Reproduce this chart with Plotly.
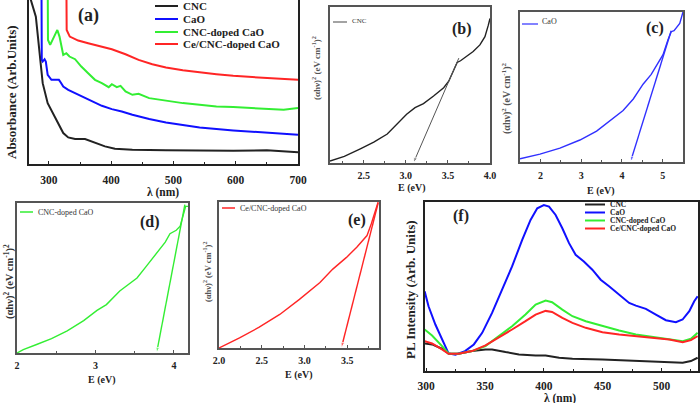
import plotly.graph_objects as go

W, H = 700, 403
SERIF = "Liberation Serif"

# ---------------- data ----------------
# (a) UV-Vis absorbance
a_cnc_x = [268, 271, 279, 285, 290, 298, 306, 315, 323, 331, 342, 358, 374, 390, 406, 434, 488, 542, 596, 650, 700]
a_cnc_y = [560, 493, 443, 343, 243, 183, 153, 118, 93, 80, 75, 75, 65, 53, 46, 43, 41, 40, 40, 41, 35]
a_cao_x = [288, 288.5, 290, 293, 295, 298, 304, 312, 316, 319, 323, 331, 342, 352, 369, 385, 401, 417, 434, 461, 488, 515, 542, 596, 650, 700]
a_cao_y = [560, 313, 308, 315, 308, 268, 253, 253, 253, 245, 233, 223, 213, 203, 188, 175, 165, 158, 148, 135, 125, 117, 110, 101, 95, 88]
a_cncd_x = [298, 298.5, 302, 309, 313.5, 317, 323, 328, 333, 342, 352, 363, 374, 385, 396, 401, 409, 415, 423, 434, 444, 461, 488, 515, 542, 569, 596, 623, 650, 677, 700]
a_cncd_y = [560, 373, 358, 383, 403, 383, 328, 333, 323, 315, 293, 273, 253, 243, 231, 240, 231, 235, 218, 208, 211, 198, 190, 183, 178, 173, 171, 168, 167, 163, 168]
a_ce_x = [328, 328.5, 333.5, 347, 363, 379, 401, 423, 444, 466, 488, 515, 542, 569, 596, 650, 700]
a_ce_y = [560, 403, 383, 371, 363, 356, 345, 330, 313, 300, 290, 282, 275, 270, 265, 259, 253]

# (b) Tauc plot CNC
b_x = [2.1, 2.27, 2.46, 2.62, 2.78, 2.94, 3.01, 3.11, 3.21, 3.33, 3.45, 3.51, 3.57, 3.61, 3.65, 3.72, 3.80, 3.88, 3.94, 3.98, 4.0]
b_y = [6, 20, 43, 63, 88, 128, 148, 168, 180, 203, 228, 248, 283, 305, 310, 323, 338, 358, 383, 418, 438]
b_fit_x = [3.63, 3.09]
b_fit_y = [318, 0]

# (c) Tauc plot CaO
c_x = [1.5, 1.99, 2.48, 2.97, 3.38, 3.70, 4.03, 4.28, 4.52, 4.72, 4.89, 5.01, 5.13, 5.21, 5.28, 5.42, 5.5]
c_y = [10, 24, 42, 67, 94, 124, 157, 192, 237, 267, 302, 327, 372, 397, 400, 422, 457]
c_fit_x = [5.21, 4.21]
c_fit_y = [400, 0]

# (d) Tauc plot CNC-doped CaO
d_x = [2.0, 2.08, 2.25, 2.44, 2.64, 2.85, 3.02, 3.14, 3.31, 3.53, 3.65, 3.78, 3.89, 3.95, 4.03, 4.08, 4.12, 4.15, 4.18]
d_y = [0, 10, 25, 42, 65, 95, 125, 142, 182, 220, 255, 292, 325, 350, 360, 372, 405, 430, 430]
d_fit_x = [4.14, 3.78]
d_fit_y = [435, 0]

# (e) Tauc plot Ce/CNC-doped CaO
e_x = [2.0, 2.24, 2.47, 2.71, 2.94, 3.18, 3.33, 3.49, 3.61, 3.73, 3.78, 3.82, 3.86]
e_y = [0, 30, 62, 100, 145, 195, 235, 270, 300, 335, 370, 400, 435]
e_fit_x = [3.86, 3.43]
e_fit_y = [432, 0]

# (f) PL spectra
f_cao_x = [298.7, 302, 307.8, 313.5, 319, 324.8, 333, 340.5, 347.6, 356, 364.6, 373, 381.6, 388.7, 394.4, 400, 404.4, 410, 415.7, 421.4, 427, 434, 441.2, 448.3, 455.4, 464, 472.5, 478.2, 486.7, 495.2, 503.7, 512.2, 517.9, 523.6, 527.8, 530.7]
f_cao_y = [240, 195, 140, 95, 53, 49, 60, 80, 115, 175, 245, 315, 395, 455, 490, 500, 495, 470, 430, 385, 350, 330, 305, 275, 255, 230, 205, 197, 187, 170, 153, 147, 155, 180, 210, 225]
f_x = [298.7, 305, 313.5, 319, 327.5, 339, 350.4, 361.8, 373, 384.4, 393, 401.5, 407, 415.7, 424.3, 435.6, 449.8, 464, 478.2, 492.4, 506.6, 518, 525, 530.7]
f_cncd_y = [125, 107, 75, 53, 52, 60, 75, 105, 135, 170, 200, 212, 207, 185, 165, 150, 135, 122, 110, 103, 95, 90, 97, 115]
f_ce_y = [90, 83, 65, 52, 52, 60, 77, 100, 125, 150, 170, 181, 178, 160, 145, 130, 117, 110, 105, 100, 95, 87, 93, 105]
f_cnc_x = [298.7, 305, 313.5, 319, 327.5, 339, 350.4, 356, 367.4, 378.8, 393, 401.5, 413, 424.3, 449.8, 478.2, 506.6, 518, 525, 530.7]
f_cnc_y = [83, 80, 67, 53, 52, 60, 65, 65, 57, 50, 47, 47, 40, 37, 35, 30, 25, 25, 30, 40]

names4 = ["CNC", "CaO", "CNC-doped CaO", "Ce/CNC-doped CaO"]
BLACK, BLUE, GREEN, RED = "#222222", "#1010ff", "#33ee33", "#ff2525"
colors4 = [BLACK, BLUE, GREEN, RED]


def px(x, y):
    return x / W, 1 - y / H


fig = go.Figure()

# (a)
for xs, ys, c in [(a_cnc_x, a_cnc_y, BLACK), (a_cao_x, a_cao_y, BLUE),
                  (a_cncd_x, a_cncd_y, GREEN), (a_ce_x, a_ce_y, RED)]:
    fig.add_trace(go.Scatter(x=xs, y=ys, mode="lines", line=dict(color=c, width=2),
                             xaxis="x", yaxis="y", showlegend=False))


def tauc(xs, ys, fx, fy, c, ax, w=1.4, fitc=None):
    n = "" if ax == 1 else str(ax)
    fig.add_trace(go.Scatter(x=xs, y=ys, mode="lines", line=dict(color=c, width=w),
                             xaxis="x" + n, yaxis="y" + n, showlegend=False))
    fig.add_trace(go.Scatter(x=fx, y=fy, mode="lines+markers",
                             line=dict(color=fitc or c, width=1 if fitc else w),
                             marker=dict(symbol="arrow", size=[0, 6], angleref="previous",
                                         color=fitc or c),
                             xaxis="x" + n, yaxis="y" + n, showlegend=False))


tauc(b_x, b_y, b_fit_x, b_fit_y, BLACK, 2, fitc="#555555")
tauc(c_x, c_y, c_fit_x, c_fit_y, "#3030ff", 3)
tauc(d_x, d_y, d_fit_x, d_fit_y, GREEN, 4)
tauc(e_x, e_y, e_fit_x, e_fit_y, RED, 5)

# (f)
for xs, ys, c in [(f_cnc_x, f_cnc_y, BLACK), (f_cao_x, f_cao_y, BLUE),
                  (f_x, f_cncd_y, GREEN), (f_x, f_ce_y, RED)]:
    fig.add_trace(go.Scatter(x=xs, y=ys, mode="lines", line=dict(color=c, width=2),
                             xaxis="x6", yaxis="y6", showlegend=False))

# panel boxes (left, top, right, bottom in pixels), x range, y range, ticks
panels = [
    ((29, 0, 298, 164), [268, 700], [0, 493], 100, 50, "", 11.5, "#222", 2, 4),
    ((330, 7, 490, 163), [2.1, 4.0], [0, 473], 0.5, 0.25, ".1f", 10, "#555", 1.5, 2),
    ((520, 12, 683, 162), [1.5, 5.5], [0, 457], 1, 0.5, "", 10, "#555", 1.5, 3),
    ((17, 203, 188, 353), [2.0, 4.18], [0, 440], 1, 0.5, "", 10, "#555", 1.5, 2),
    ((219, 202, 379, 348), [2.0, 3.87], [0, 435], 0.5, 0.25, ".1f", 10, "#555", 1.5, 2),
    ((425, 202, 698, 371), [299, 531], [0, 509], 50, 25, "", 11.5, "#222", 2, 3),
]
tick0s = [300, 2.5, 2, 2, 2.0, 300]
for i, (box, xr, yr, dt, mdt, fmt, fs, lc, lw, stand) in enumerate(panels):
    n = "" if i == 0 else str(i + 1)
    left, top, right, bottom = box
    xd = [left / W, right / W]
    yd = [1 - bottom / H, min(1.0, 1 - top / H)]
    fig.update_layout(**{
        "xaxis" + n: dict(domain=xd, range=xr, anchor="y" + n, showgrid=False, automargin=False,
                          zeroline=False, showline=True, mirror=True, linecolor=lc, linewidth=lw,
                          ticks="inside", ticklen=3, tickcolor=lc, dtick=dt, tick0=tick0s[i],
                          tickformat=fmt, ticklabelstandoff=stand,
                          minor=dict(dtick=mdt, ticks="inside", ticklen=2, tickcolor=lc),
                          tickfont=dict(family=SERIF, size=fs, color="#222", weight="bold")),
        "yaxis" + n: dict(domain=yd, range=yr, anchor="x" + n, showgrid=False, automargin=False,
                          zeroline=False, showline=True, mirror=True, linecolor=lc, linewidth=lw,
                          showticklabels=False, ticks=""),
    })

ann = []
shapes = []


def text(x, y, s, size, bold=True, color="#222", angle=0, xanchor="center", yanchor="middle"):
    xp, yp = px(x, y)
    ann.append(dict(x=xp, y=yp, xref="paper", yref="paper", text=s, showarrow=False,
                    textangle=angle, xanchor=xanchor, yanchor=yanchor,
                    font=dict(family=SERIF, size=size, color=color,
                              weight="bold" if bold else "normal")))


def legline(x0, x1, y, c, w=2):
    a, b = px(x0, y)
    c2, _ = px(x1, y)
    shapes.append(dict(type="line", xref="paper", yref="paper", x0=a, x1=c2, y0=b, y1=b,
                       line=dict(color=c, width=w)))


# axis titles
text(163, 192, "λ (nm)", 11.5)
text(12, 92, "Absorbance (Arb.Units)", 13, angle=-90)
text(412, 188, "E (eV)", 10)
text(601, 191, "E (eV)", 10)
text(102, 380, "E (eV)", 10)
text(299, 375, "E (eV)", 10)
text(560, 398.5, "λ (nm)", 11.5)
text(410, 290, "PL Intensity (Arb. Units)", 13, angle=-90)
tauc_title = "(αhν)<sup>2</sup> (eV cm<sup>-1</sup>)<sup>2</sup>"
text(316, 68, tauc_title, 9, color="#555", angle=-90)
text(507, 98, tauc_title, 10, color="#555", angle=-90)
text(9, 282, tauc_title, 10.5, color="#333", angle=-90)
text(207, 272, tauc_title, 8.5, color="#555", angle=-90)

# panel labels
text(88, 15, "(a)", 18)
text(462, 29, "(b)", 16)
text(655, 28, "(c)", 16)
text(150, 222, "(d)", 16)
text(357, 220, "(e)", 16)
text(461, 216, "(f)", 16)

# legends
for k, (nm, c) in enumerate(zip(names4, colors4)):
    y = [6, 19, 32, 44][k]
    legline(155, 178, y, c)
    text(181, y, nm, 11, xanchor="left")
    yf = [204.5, 212.5, 220.5, 228.5][k]
    legline(585, 605, yf, c)
    text(608, yf, nm, 7.5, xanchor="left")
legline(333, 347, 22, "#666", 1.2)
text(350, 21, "CNC", 7, bold=False, color="#333", xanchor="left")
legline(522, 538, 24, "#3030ff", 1.2)
text(540, 22, "CaO", 8, bold=False, color="#333", xanchor="left")
legline(20, 33, 212, GREEN, 1.5)
text(36, 212, "CNC-doped CaO", 8, bold=False, color="#333", xanchor="left")
legline(222, 235, 208, RED, 1.5)
text(238, 208, "Ce/CNC-doped CaO", 8, bold=False, color="#333", xanchor="left")

fig.update_layout(width=W, height=H, margin=dict(l=0, r=0, t=0, b=0, autoexpand=False),
                  paper_bgcolor="white", plot_bgcolor="white",
                  annotations=ann, shapes=shapes, showlegend=False)

fig.write_html("out.html", config={"displayModeBar": False},
               post_script="document.body.style.margin='0';")
